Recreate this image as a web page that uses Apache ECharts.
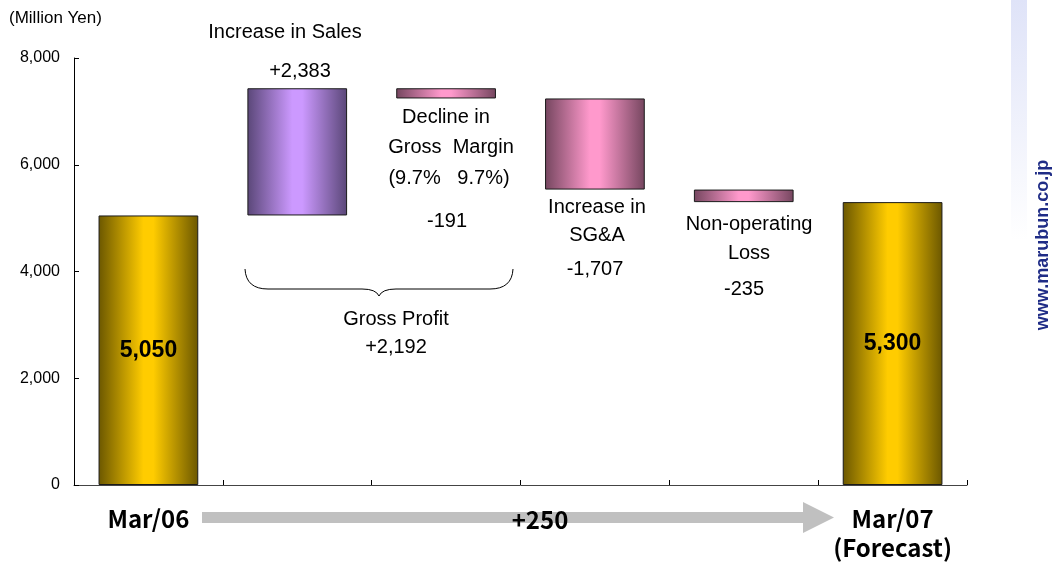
<!DOCTYPE html>
<html>
<head>
<meta charset="utf-8">
<script src="https://cdn.jsdelivr.net/npm/echarts@6/dist/echarts.min.js"></script>
<style>
  html, body { margin: 0; padding: 0; background: #ffffff; }
  #chart { width: 1054px; height: 565px; }
</style>
</head>
<body>
<div id="chart"></div>
<script>
// Ordinary profit bridge, Mar/06 -> Mar/07 (Million Yen)
const categories = ['Mar/06', 'Increase in Sales', 'Decline in Gross Margin', 'Increase in SG&A', 'Non-operating Loss', 'Mar/07'];
const categoryLabels = ['Mar/06', '', '', '', '', 'Mar/07\n(Forecast)'];
const startProfit = 5050;
const changes = [2383, -191, -1707, -235];
const endProfit = 5300;
const yTickLabels = ['0', '2,000', '4,000', '6,000', '8,000'];
const yMin = 0, yMax = 8000, yStep = 2000;

const fmt = v => v.toLocaleString('en-US');
const signed = v => (v > 0 ? '+' : '') + fmt(v);

// Floating bars: invisible base + visible step
const baseValues = [0];
const stepValues = [startProfit];
const kinds = ['total'];
let running = startProfit;
changes.forEach(c => {
  if (c >= 0) { baseValues.push(running); stepValues.push(c); kinds.push('up'); }
  else { baseValues.push(running + c); stepValues.push(-c); kinds.push('down'); }
  running += c;
});
baseValues.push(0); stepValues.push(endProfit); kinds.push('total');

function hGrad(edge, mid) {
  return {
    type: 'linear', x: 0, y: 0, x2: 1, y2: 0,
    colorStops: [
      { offset: 0, color: edge },
      { offset: 0.45, color: mid },
      { offset: 0.55, color: mid },
      { offset: 1, color: edge }
    ]
  };
}
const palette = {
  total: hGrad('#6b5700', '#ffcc00'),
  up: hGrad('#5a4778', '#cc99ff'),
  down: hGrad('#75465f', '#ff99cc')
};

const stepData = stepValues.map((v, i) => ({
  value: v,
  itemStyle: { color: palette[kinds[i]], borderColor: '#1a1a1a', borderWidth: 1 },
  label: kinds[i] === 'total' ? {
    show: true, position: 'inside', formatter: fmt(v),
    fontFamily: 'Liberation Sans, Arial, sans-serif', fontWeight: 'bold',
    fontSize: 23, color: '#000'
  } : { show: false }
}));

const chart = echarts.init(document.getElementById('chart'), null, { renderer: 'canvas' });

const textFont = 'Liberation Sans, Arial, sans-serif';
const jpFont = 'Noto Sans CJK JP, sans-serif';
function note(text, x, y, opts) {
  return {
    type: 'text', x: x, y: y, silent: true, z: 10,
    style: Object.assign({
      text: text, fill: '#000', font: '20px ' + textFont,
      textAlign: 'center', textVerticalAlign: 'middle'
    }, opts || {})
  };
}
const braceStyle = { fill: 'none', stroke: '#000', lineWidth: 1 };
function curve(x1, y1, cx, cy, x2, y2) {
  return { type: 'bezierCurve', silent: true, shape: { x1: x1, y1: y1, cpx1: cx, cpy1: cy, x2: x2, y2: y2 }, style: braceStyle };
}
function seg(x1, y1, x2, y2) {
  return { type: 'line', silent: true, shape: { x1: x1, y1: y1, x2: x2, y2: y2 }, style: braceStyle };
}

const grossProfit = changes[0] + changes[1];

const graphics = [
  note('(Million Yen)', 9, 18, { textAlign: 'left', font: '17px ' + textFont }),
  note('Increase in Sales', 285, 32),
  note(signed(changes[0]), 300, 71),
  note('Decline in', 446, 117),
  note('Gross  Margin', 451, 147),
  note('(9.7%   9.7%)', 449, 178),
  note(signed(changes[1]), 447, 221),
  note('Increase in', 597, 207),
  note('SG&A', 597, 235),
  note(signed(changes[2]), 595, 269),
  note('Non-operating', 749, 224),
  note('Loss', 749, 253),
  note(signed(changes[3]), 744, 289),
  // brace under the sales and gross margin steps
  curve(245, 269, 246, 289, 268, 289),
  seg(268, 289, 362, 289),
  curve(362, 289, 376, 289, 379, 296),
  curve(379, 296, 382, 289, 396, 289),
  seg(396, 289, 490, 289),
  curve(490, 289, 512, 289, 513, 269),
  note('Gross Profit', 396, 319),
  note(signed(grossProfit), 396, 347),
  // year-on-year arrow
  {
    type: 'polygon', silent: true, z: 1,
    shape: { points: [[202, 512], [803, 512], [803, 502], [834, 517.5], [803, 533], [803, 523], [202, 523]] },
    style: { fill: '#c0c0c0' }
  },
  note(signed(endProfit - startProfit), 540, 520, { font: 'bold 24px ' + jpFont }),
  // site strip on the right edge
  {
    type: 'rect', silent: true,
    shape: { x: 1011, y: 0, width: 16, height: 240 },
    style: { fill: { type: 'linear', x: 0, y: 0, x2: 0, y2: 1, colorStops: [{ offset: 0, color: '#dfe3f8' }, { offset: 1, color: '#ffffff' }] } }
  },
  {
    type: 'text', silent: true, x: 1043, y: 245, rotation: Math.PI / 2,
    style: { text: 'www.marubun.co.jp', fill: '#1f2c86', font: 'bold 18px ' + textFont, textAlign: 'center', textVerticalAlign: 'middle' }
  }
];

chart.setOption({
  animation: false,
  backgroundColor: '#ffffff',
  grid: { left: 74, right: 87, top: 58, bottom: 80, containLabel: false },
  xAxis: {
    type: 'category',
    data: categories,
    axisLine: { show: true, lineStyle: { color: '#444', width: 1 } },
    axisTick: { show: true, inside: true, length: 5, alignWithLabel: false, lineStyle: { color: '#000' } },
    axisLabel: {
      interval: 0, margin: 19,
      formatter: (v, i) => categoryLabels[i],
      fontFamily: jpFont, fontWeight: 'bold', fontSize: 24, lineHeight: 29, color: '#000'
    },
    splitLine: { show: false }
  },
  yAxis: {
    type: 'value', min: yMin, max: yMax, interval: yStep,
    axisLine: { show: true, lineStyle: { color: '#000', width: 1 } },
    axisTick: { show: true, inside: true, length: 5, lineStyle: { color: '#000' } },
    axisLabel: {
      margin: 14, fontFamily: textFont, fontSize: 16, color: '#000',
      formatter: v => yTickLabels[Math.round((v - yMin) / yStep)]
    },
    splitLine: { show: false }
  },
  series: [
    {
      name: 'base', type: 'bar', stack: 'bridge', barWidth: '67%',
      itemStyle: { color: 'transparent', borderColor: 'transparent' },
      emphasis: { disabled: true }, silent: true,
      data: baseValues
    },
    {
      name: 'step', type: 'bar', stack: 'bridge', barWidth: '67%',
      data: stepData
    }
  ],
  graphic: graphics
});
</script>
</body>
</html>
